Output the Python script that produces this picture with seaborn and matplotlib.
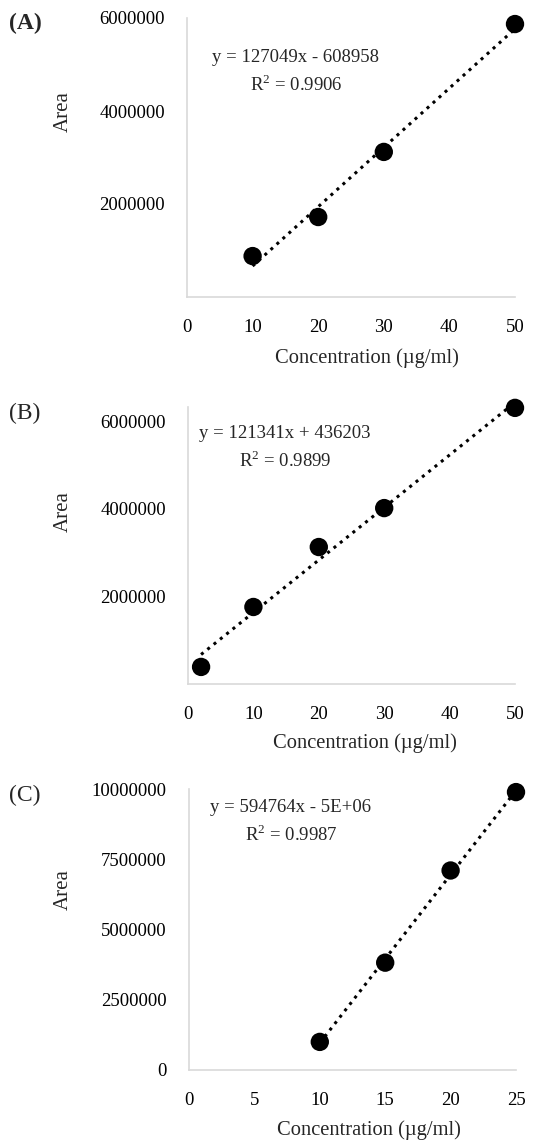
import pandas as pd
import matplotlib
matplotlib.use("Agg")
import matplotlib.pyplot as plt
import seaborn as sns

# calibration data
conc_a = [10, 20, 30, 50]
area_a = [880000, 1720000, 3120000, 5870000]
conc_b = [2, 10, 20, 30, 50]
area_b = [390000, 1760000, 3130000, 4020000, 6310000]
conc_c = [10, 15, 20, 25]
area_c = [1000000, 3820000, 7100000, 9890000]

labels = ["(A)", "(B)", "(C)"]
equations = ["y = 127049x - 608958", "y = 121341x + 436203", "y = 594764x - 5E+06"]
r2_values = ["0.9906", "0.9899", "0.9987"]
xticks_ab = [0, 10, 20, 30, 40, 50]
xticks_c = [0, 5, 10, 15, 20, 25]
yticks_a = [2000000, 4000000, 6000000]
yticks_b = [2000000, 4000000, 6000000]
yticks_c = [0, 2500000, 5000000, 7500000, 10000000]

sns.set_theme(style="white")
plt.rcParams["font.family"] = ["Liberation Serif", "DejaVu Serif"]
plt.rcParams["mathtext.fontset"] = "custom"
plt.rcParams["mathtext.rm"] = "Liberation Serif"

W, H = 535, 1143
fig = plt.figure(figsize=(W / 100, H / 100), dpi=100)

# axes boxes in pixels: left, top, right, bottom
boxes = [(187, 18, 515, 297), (188, 407, 515, 684), (189, 789, 516, 1070)]
panels = [
    (conc_a, area_a, xticks_ab, (0, 50), yticks_a, (0, 6000000)),
    (conc_b, area_b, xticks_ab, (0, 50), yticks_b, (0, 6330000)),
    (conc_c, area_c, xticks_c, (0, 25), yticks_c, (0, 10000000)),
]
# text centres in pixels: (x, y eq, y r2)
text_pos = [(296, 57, 85), (285, 433, 461), (291, 807, 835)]
label_y = [23, 413, 795]
ylab_pos = [(63, 112), (63, 512), (63, 890)]
xlab_pos = [(367, 358), (365, 743), (369, 1130)]

for i, (x, y, xt, xl, yt, yl) in enumerate(panels):
    l, t, r, b = boxes[i]
    ax = fig.add_axes([l / W, 1 - b / H, (r - l) / W, (b - t) / H])
    df = pd.DataFrame({"Concentration": x, "Area": y})
    sns.regplot(data=df, x="Concentration", y="Area", ax=ax, ci=None, truncate=True,
                scatter_kws={"s": 175, "color": "black", "alpha": 1, "clip_on": False,
                             "zorder": 3, "edgecolor": "none"},
                line_kws={"color": "black", "linestyle": ":", "linewidth": 2.2})
    ax.set_xlim(*xl)
    ax.set_ylim(*yl)
    ax.set_xticks(xt)
    ax.set_yticks(yt)
    ax.set_yticklabels([str(v) for v in yt])
    ax.tick_params(axis="both", length=0, labelsize=13.5, colors="black")
    ax.tick_params(axis="x", pad=16)
    ax.tick_params(axis="y", pad=16)
    for s in ["top", "right"]:
        ax.spines[s].set_visible(False)
    for s in ["left", "bottom"]:
        ax.spines[s].set_color("#d9d9d9")
        ax.spines[s].set_linewidth(1.2)
    ax.set_xlabel("Concentration (µg/ml)", fontsize=14.8)
    ax.set_ylabel("Area", fontsize=15)
    ax.xaxis.set_label_coords(xlab_pos[i][0] / W, 1 - xlab_pos[i][1] / H, transform=fig.transFigure)
    ax.yaxis.set_label_coords(ylab_pos[i][0] / W, 1 - ylab_pos[i][1] / H, transform=fig.transFigure)
    ax.xaxis.label.set_va("center")
    ax.yaxis.label.set_va("center")
    ax.patch.set_alpha(0)

    tx, ty1, ty2 = text_pos[i]
    fig.text(tx / W, 1 - ty1 / H, equations[i], ha="center", va="center", fontsize=13.5)
    fig.text(tx / W, 1 - ty2 / H, "R$^2$ = " + r2_values[i], ha="center", va="center",
             fontsize=13.5)
    fig.text(9 / W, 1 - label_y[i] / H, labels[i], ha="left", va="center", fontsize=17,
             fontweight="bold" if i == 0 else "normal")

fig.savefig("out.png", dpi=100)
